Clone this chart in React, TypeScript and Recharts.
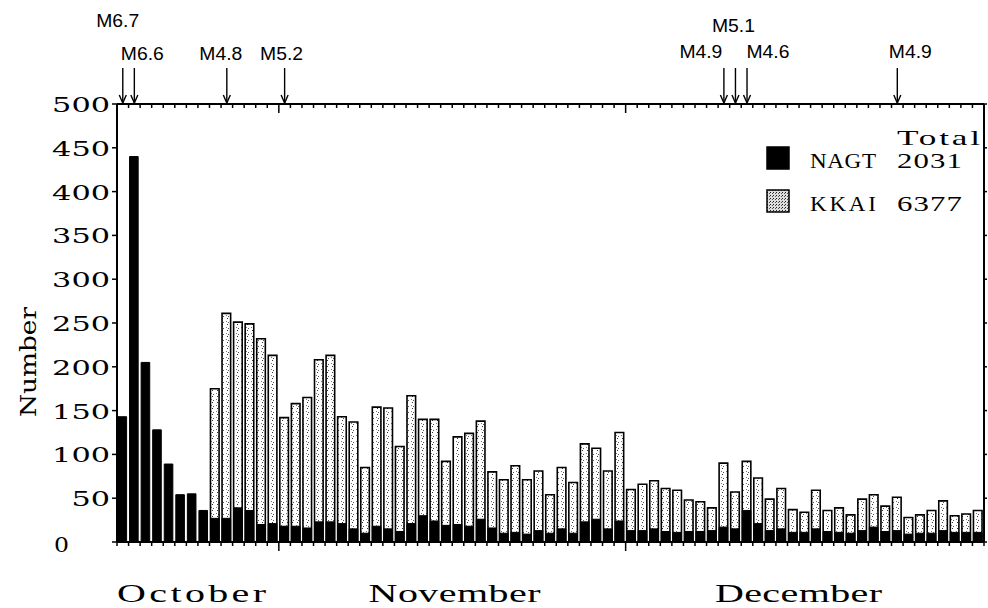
import React from 'react';
import { BarChart, Bar, XAxis, YAxis, ReferenceLine, Legend } from 'recharts';

// daily counts, 18 Oct - 31 Dec
const octDays = [18, 19, 20, 21, 22, 23, 24, 25, 26, 27, 28, 29, 30, 31];
const novDays = [1, 2, 3, 4, 5, 6, 7, 8, 9, 10, 11, 12, 13, 14, 15, 16, 17, 18, 19, 20, 21, 22, 23, 24, 25, 26, 27, 28, 29, 30];
const decDays = [1, 2, 3, 4, 5, 6, 7, 8, 9, 10, 11, 12, 13, 14, 15, 16, 17, 18, 19, 20, 21, 22, 23, 24, 25, 26, 27, 28, 29, 30, 31];

const nagt = [
  143, 440, 205, 128, 89, 54, 55, 36,
  27, 27, 39, 36, 20, 21, 18, 18, 16, 23, 23,
  21, 15, 10, 18, 15, 12, 21, 30, 24, 19, 20, 18, 26, 16, 10, 11, 9, 13,
  10, 15, 10, 23, 26, 15, 24, 13, 13, 15, 12, 11, 12, 12, 13, 17, 15, 36, 21,
  13, 15, 11, 11, 15, 12, 11, 10, 13, 17, 12, 13, 9, 10, 10, 13, 11, 11, 11,
];

const kkai = [
  null, null, null, null, null, null, null, null,
  175, 261, 251, 249, 232, 213, 142, 158, 165, 208, 213,
  143, 137, 85, 154, 153, 109, 167, 140, 140, 92, 120, 124, 138, 80, 71, 87, 71, 81,
  54, 85, 68, 112, 107, 81, 125, 60, 66, 70, 61, 59, 48, 46, 39, 90, 57, 92, 73,
  49, 61, 37, 34, 59, 36, 39, 31, 49, 54, 41, 51, 28, 31, 36, 47, 30, 32, 36,
];

const seriesNames = ['NAGT', 'KKAI'];
const seriesTotals = [2031, 6377];

const yTicks = [0, 50, 100, 150, 200, 250, 300, 350, 400, 450, 500];
const monthNames = ['October', 'November', 'December'];

// larger shocks marked above the frame
const quakeDates = ['10/18', '10/19', '10/27', '11/1', '12/9', '12/10', '12/11', '12/24'];
const quakeMags = ['M6.7', 'M6.6', 'M4.8', 'M5.2', 'M4.9', 'M5.1', 'M4.6', 'M4.9'];

// label placement only (px): horizontal shift, height above frame
const quakeLabelDx = [-5, 8, -6, -3, -23, -2, 21, 13];
const quakeLabelLift = [77, 44, 44, 44, 46, 72, 46, 46];
const monthLabelAt = [6.45, 29.2, 58.95];
const monthLabelWidth = [149, 172, 167];

const dates = [
  ...octDays.map((d) => `10/${d}`),
  ...novDays.map((d) => `11/${d}`),
  ...decDays.map((d) => `12/${d}`),
];

const data = dates.map((date, i) => ({ date, day: i + 0.5, nagt: nagt[i], kkai: kkai[i] }));
const dayTicks = Array.from({ length: dates.length + 1 }, (_, i) => i);
const monthStarts = [dates.indexOf('11/1'), dates.indexOf('12/1')];

const SERIF = "'DejaVu Serif', serif";
const THIN_SERIF = "'Liberation Serif', serif";
const SANS = "'Liberation Sans', Arial, sans-serif";

// horizontally stretched serif text, like the typewriter-style lettering of the plot
const WideText = ({ x, y, width, stretch, size, children }: any) => (
  <text transform={`scale(${stretch},1)`} x={x / stretch} y={y} textLength={width / stretch} lengthAdjust="spacing"
    fontFamily={THIN_SERIF} fontSize={size} fill="#000">
    {children}
  </text>
);

const DayTick = (props: any) => {
  const { x, y, payload } = props;
  const major = monthStarts.includes(payload.value);
  return <line x1={x} x2={x} y1={y} y2={y + (major ? 9 : 4)} stroke="#000" strokeWidth={1.5} />;
};

const MonthTick = (props: any) => {
  const { x, y, index } = props;
  const w = monthLabelWidth[index];
  return (
    <WideText x={x - w / 2} y={y + 50} width={w} stretch={1.6} size={25}>
      {monthNames[index]}
    </WideText>
  );
};

const CountTick = (props: any) => {
  const { x, y, payload } = props;
  const s = String(payload.value);
  if (payload.value === 0) {
    return <text x={54} y={y + 10} textLength={15} lengthAdjust="spacingAndGlyphs" fontFamily={SERIF} fontSize={21} fill="#000">0</text>;
  }
  const w = s.length * 19.3;
  return (
    <text x={x - w} y={y + 8} textLength={w} lengthAdjust="spacingAndGlyphs" fontFamily={SERIF} fontSize={21} fill="#000">
      {s}
    </text>
  );
};

const NumberLabel = () => (
  <text transform="translate(36, 362) rotate(-90)" textAnchor="middle" textLength={110} lengthAdjust="spacingAndGlyphs"
    fontFamily={SERIF} fontSize={22} fill="#000">
    Number
  </text>
);

const QuakeArrow = (props: any) => {
  const { x1, y1, y2, k } = props;
  const top = Math.min(y1, y2);
  return (
    <g>
      <line x1={x1} x2={x1} y1={top - 36} y2={top - 1} stroke="#000" strokeWidth={1.4} />
      <polyline points={`${x1 - 3.5},${top - 9} ${x1},${top - 1} ${x1 + 3.5},${top - 9}`} fill="none" stroke="#000" strokeWidth={1.4} />
      <text x={x1 + quakeLabelDx[k]} y={top - quakeLabelLift[k]} textAnchor="middle" textLength={43} lengthAdjust="spacingAndGlyphs"
        fontFamily={SANS} fontSize={18} fill="#000">
        {quakeMags[k]}
      </text>
    </g>
  );
};

const LegendBox = () => (
  <svg width={248} height={110}>
    <WideText x={157} y={25} width={83} stretch={1.6} size={22}>Total</WideText>
    {seriesNames.map((name, k) => (
      <g key={name}>
        <rect x={27} y={27 + 43 * k} width={22} height={22}
          fill={k === 0 ? '#000' : 'url(#stippleDense)'} stroke="#000" strokeWidth={1.5} />
        <WideText x={70} y={48 + 43 * k} width={66} stretch={1.05} size={22}>{name}</WideText>
        <WideText x={157} y={48 + 43 * k} width={65} stretch={1.4} size={22}>{seriesTotals[k]}</WideText>
      </g>
    ))}
  </svg>
);

export default function App() {
  return (
    <div style={{ position: 'absolute', left: 0, top: 0, width: 988, height: 608, background: '#fff' }}>
      <svg width={0} height={0} style={{ position: 'absolute' }}>
        <defs>
          <pattern id="stipple" width={5} height={6} patternUnits="userSpaceOnUse">
            <rect width={5} height={6} fill="#fff" />
            <rect x={2} y={0} width={1} height={1} fill="#333" />
            <rect x={1} y={3} width={1} height={1} fill="#777" />
            <rect x={3} y={4} width={1} height={1} fill="#555" />
          </pattern>
          <pattern id="stippleDense" width={3} height={3} patternUnits="userSpaceOnUse">
            <rect width={3} height={3} fill="#ddd" />
            <rect x={0} y={0} width={1} height={1} fill="#222" />
            <rect x={2} y={1} width={1} height={1} fill="#555" />
          </pattern>
        </defs>
      </svg>
      <BarChart width={988} height={608} data={data} margin={{ top: 0, right: 0, bottom: 0, left: 0 }} barGap={-8.6}>
        <XAxis xAxisId="day" dataKey="day" type="number" domain={[0, dates.length]} ticks={dayTicks} interval={0}
          orientation="bottom" height={10} tickSize={0} tickMargin={0} tickLine={false}
          axisLine={{ stroke: '#000', strokeWidth: 2 }} tick={<DayTick />} allowDataOverflow />
        <XAxis xAxisId="month" dataKey="day" type="number" domain={[0, dates.length]} ticks={monthLabelAt} interval={0}
          orientation="bottom" height={56} tickSize={0} tickMargin={0} tickLine={false} axisLine={false}
          tick={<MonthTick />} allowDataOverflow />
        <XAxis xAxisId="top" dataKey="day" type="number" domain={[0, dates.length]} ticks={dayTicks} interval={0}
          orientation="top" height={104} tickSize={0} tickMargin={0} tickLine={false}
          axisLine={{ stroke: '#000', strokeWidth: 2 }} tick={<DayTick />} allowDataOverflow />
        <YAxis yAxisId="left" domain={[0, 500]} ticks={yTicks} interval={0} width={117} tickSize={5} tickMargin={2}
          tickLine={{ stroke: '#000', strokeWidth: 1.5 }} axisLine={{ stroke: '#000', strokeWidth: 2 }}
          tick={<CountTick />} label={<NumberLabel />} allowDataOverflow />
        <YAxis yAxisId="right" orientation="right" domain={[0, 500]} ticks={yTicks} interval={0} width={4} tickSize={3}
          tickLine={{ stroke: '#000', strokeWidth: 1.5 }} axisLine={{ stroke: '#000', strokeWidth: 2 }}
          tick={() => <g />} allowDataOverflow />
        <Legend layout="horizontal" verticalAlign="middle" align="center" content={<LegendBox />}
          wrapperStyle={{ left: 740, top: 120, width: 248, height: 110 }} />
        <Bar xAxisId="day" yAxisId="left" dataKey="kkai" name="KKAI" barSize={8.6} fill="url(#stipple)"
          stroke="#000" strokeWidth={1.6} isAnimationActive={false} />
        <Bar xAxisId="day" yAxisId="left" dataKey="nagt" name="NAGT" barSize={8.6} fill="#000"
          stroke="#000" strokeWidth={1} isAnimationActive={false} />
        {quakeDates.map((d, k) => (
          <ReferenceLine key={k} xAxisId="day" yAxisId="left" x={dates.indexOf(d) + 0.5} stroke="#000"
            shape={(p: any) => <QuakeArrow {...p} k={k} />} />
        ))}
      </BarChart>
    </div>
  );
}
